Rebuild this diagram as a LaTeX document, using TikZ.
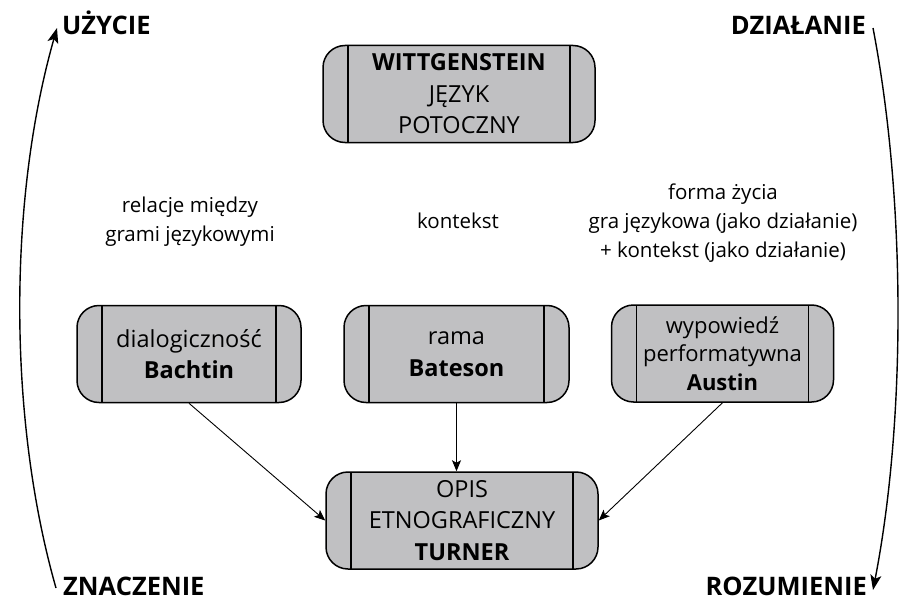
\documentclass[tikz,border=0pt]{standalone}
\usepackage{fontspec}
\setmainfont{Open Sans}
\usetikzlibrary{arrows.meta}
\definecolor{boxgray}{RGB}{192,192,194}
\begin{document}
\begin{tikzpicture}[x=1pt,y=-1pt,
  proc/.style={draw=black, line width=1.5pt, fill=boxgray, rounded corners=22pt, align=center,
    minimum width=#1, minimum height=97pt, inner sep=0pt, font=\fontsize{23.5}{31.5}\selectfont,
    path picture={
      \draw[line width=1.2pt] ([xshift=25pt]path picture bounding box.north west) -- ([xshift=25pt]path picture bounding box.south west);
      \draw[line width=1.2pt] ([xshift=-25pt]path picture bounding box.north east) -- ([xshift=-25pt]path picture bounding box.south east);}},
  lbl/.style={align=center, font=\fontsize{20.5}{29}\selectfont, inner sep=0pt},
  corner/.style={font=\fontsize{25.5}{28}\selectfont\bfseries, inner sep=0pt},
  link/.style={line width=0.9pt, -{Stealth[length=11pt,width=9pt,inset=2.5pt]}},
  bigarc/.style={line width=1.4pt, -{Stealth[length=15pt,width=11pt,inset=3.5pt]}}]
\useasboundingbox (0,0) rectangle (916,602);

\node[proc=272pt] (witt) at (459,94) {\textbf{WITTGENSTEIN}\\JĘZYK\\POTOCZNY};
\node[proc=224pt] (bach) at (189,354) {dialogiczność\\\textbf{Bachtin}};
\node[proc=225pt] (bate) at (456.5,354) {rama\\\textbf{Bateson}};
\node[proc=222pt, font=\fontsize{22}{28.5}\selectfont] (aust) at (722.5,353.5) {wypowiedź\\performatywna\\\textbf{Austin}};
\node[proc=272pt] (turn) at (462,520.5) {OPIS\\ETNOGRAFICZNY\\\textbf{TURNER}};

\node[lbl] (rel) at (190,222) {relacje między\\grami językowymi};
\node[lbl, anchor=base] (kont) at (458,228) {kontekst};
\node[lbl] (forma) at (723,223) {forma życia\\gra językowa (jako działanie)\\+ kontekst (jako działanie)};

\node[corner, anchor=base west] (uz) at (62,35) {UŻYCIE};
\node[corner, anchor=base east] (dz) at (866,35) {DZIAŁANIE};
\node[corner, anchor=base west] (zn) at (63,595) {ZNACZENIE};
\node[corner, anchor=base east] (roz) at (867,595) {ROZUMIENIE};

\coordinate (zsrc) at (56,588);
\coordinate (utip) at (57,28);
\coordinate (dsrc) at (873,28);
\coordinate (rtip) at (873,590);

\draw[link] (bach.south) -- (turn.west);
\draw[link] (bate.south) -- (bate.south |- turn.north);
\draw[link] (aust.south) -- (turn.east);

\draw[bigarc] (zsrc) .. controls (8,420) and (8,200) .. (utip);
\draw[bigarc] (dsrc) .. controls (906,200) and (906,420) .. (rtip);
\end{tikzpicture}
\end{document}
